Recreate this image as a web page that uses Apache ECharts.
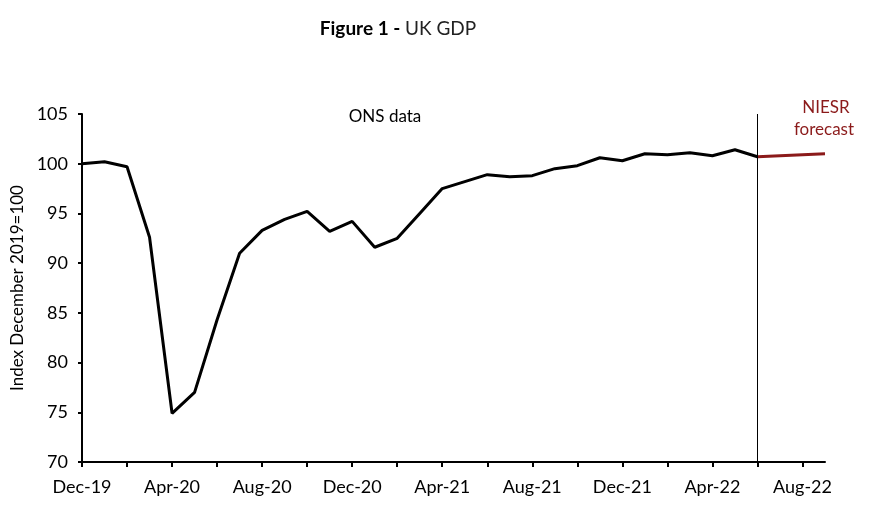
<!DOCTYPE html>
<html><head><meta charset="utf-8">
<script src="https://cdn.jsdelivr.net/npm/echarts@6/dist/echarts.min.js"></script>
<style>html,body{margin:0;padding:0;background:#fff}#c{width:873px;height:520px}</style>
</head><body><div id="c"></div>
<script>
const months = ['Dec-19','Jan-20','Feb-20','Mar-20','Apr-20','May-20','Jun-20','Jul-20','Aug-20','Sep-20','Oct-20','Nov-20',
'Dec-20','Jan-21','Feb-21','Mar-21','Apr-21','May-21','Jun-21','Jul-21','Aug-21','Sep-21','Oct-21','Nov-21',
'Dec-21','Jan-22','Feb-22','Mar-22','Apr-22','May-22','Jun-22','Jul-22','Aug-22','Sep-22'];
const onsData = [100.0,100.2,99.7,92.6,74.9,77.0,84.3,91.0,93.3,94.4,95.2,93.2,
94.2,91.6,92.5,95.0,97.5,98.2,98.9,98.7,98.8,99.5,99.8,100.6,
100.3,101.0,100.9,101.1,100.8,101.4,100.7,null,null,null];
const forecastData = [null,null,null,null,null,null,null,null,null,null,null,null,
null,null,null,null,null,null,null,null,null,null,null,null,
null,null,null,null,null,null,100.7,100.8,100.9,101.0];
const yTicks = {min:70, max:105, interval:5};
const red = '#8b1a1a';
const chart = echarts.init(document.getElementById('c'));
chart.setOption({
  animation:false,
  backgroundColor:'#fff',
  grid:{left:82,right:48,top:114,bottom:58},
  graphic:[
    {type:'text',x:398,y:29,style:{rich:{b:{fontFamily:'Lato',fontWeight:'bold',fontSize:19,fill:'#000'},n:{fontFamily:'Lato',fontSize:19,fill:'#222'}},text:'{b|Figure 1 - }{n|UK GDP}',align:'center',verticalAlign:'middle'}},
    {type:'text',x:385,y:117,style:{text:'ONS data',fontFamily:'Lato',fontSize:17,fill:'#000',align:'center',verticalAlign:'middle'}},
    {type:'text',x:826,y:108,style:{text:'NIESR',fontFamily:'Lato',fontSize:17,fill:red,align:'center',verticalAlign:'middle'}},
    {type:'text',x:824,y:130,style:{text:'forecast',fontFamily:'Lato',fontSize:17,fill:red,align:'center',verticalAlign:'middle'}}
  ],
  xAxis:{type:'category',data:months,boundaryGap:false,
    axisLine:{lineStyle:{color:'#000',width:2}},
    axisTick:{interval:(i)=>i%2===0,length:5,lineStyle:{color:'#000',width:2}},
    axisLabel:{interval:(i)=>i%4===0,color:'#000',fontFamily:'Lato',fontSize:18,margin:16},
    splitLine:{show:false}},
  yAxis:{type:'value',min:yTicks.min,max:yTicks.max,interval:yTicks.interval,
    name:'Index December 2019=100',nameLocation:'middle',nameGap:52,
    nameTextStyle:{color:'#000',fontFamily:'Lato',fontSize:17},
    axisLine:{show:true,lineStyle:{color:'#000',width:2}},
    axisTick:{show:true,length:4,lineStyle:{color:'#000',width:2}},
    axisLabel:{color:'#000',fontFamily:'Lato',fontSize:18,margin:14},
    splitLine:{show:false}},
  series:[
    {name:'ONS data',type:'line',data:onsData,symbol:'none',lineStyle:{color:'#000',width:3},
     markLine:{silent:true,symbol:'none',label:{show:false},lineStyle:{color:'#000',width:1,type:'solid'},data:[{xAxis:'Jun-22'}]}},
    {name:'NIESR forecast',type:'line',data:forecastData,symbol:'none',lineStyle:{color:red,width:3}}
  ]
});
</script></body></html>
